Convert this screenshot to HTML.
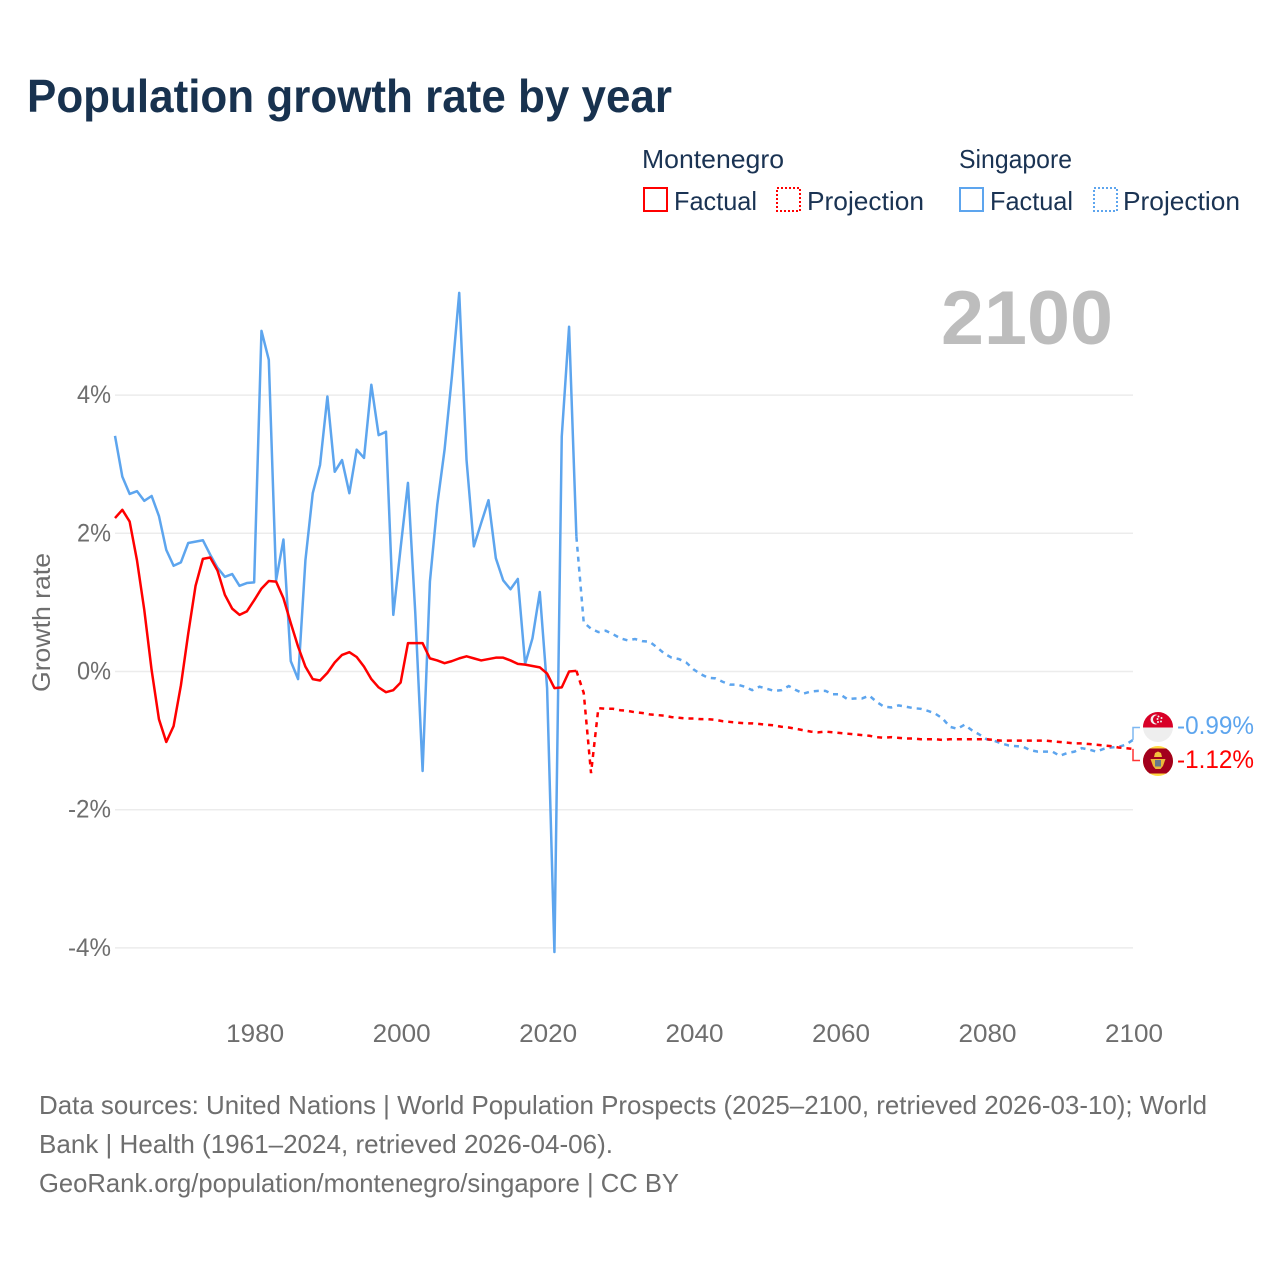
<!DOCTYPE html>
<html lang="en">
<head>
<meta charset="utf-8">
<title>Population growth rate by year</title>
<style>
html,body{margin:0;padding:0;background:#fff;}
svg{display:block;}
text{font-family:"Liberation Sans",sans-serif;}
</style>
</head>
<body>
<svg id="chart" xmlns="http://www.w3.org/2000/svg" width="1280" height="1280" viewBox="0 0 1280 1280">
  <rect width="1280" height="1280" fill="#ffffff"/>
  <text x="27" y="112" font-size="46" font-weight="700" fill="#18324f" textLength="645" lengthAdjust="spacingAndGlyphs">Population growth rate by year</text>

  <g font-size="26" fill="#1a3353">
    <text x="642" y="168" textLength="142" lengthAdjust="spacingAndGlyphs">Montenegro</text>
    <rect x="644" y="188" width="23" height="23" fill="none" stroke="#ff0000" stroke-width="2"/>
    <text x="674" y="210" textLength="83" lengthAdjust="spacingAndGlyphs">Factual</text>
    <rect x="777" y="188" width="23" height="23" fill="none" stroke="#ff0000" stroke-width="2" stroke-dasharray="2,2"/>
    <text x="807" y="210" textLength="117" lengthAdjust="spacingAndGlyphs">Projection</text>
    <text x="959" y="168" textLength="113" lengthAdjust="spacingAndGlyphs">Singapore</text>
    <rect x="960" y="188" width="23" height="23" fill="none" stroke="#5da5ee" stroke-width="2"/>
    <text x="990" y="210" textLength="83" lengthAdjust="spacingAndGlyphs">Factual</text>
    <rect x="1094" y="188" width="23" height="23" fill="none" stroke="#5da5ee" stroke-width="2" stroke-dasharray="2,2"/>
    <text x="1123" y="210" textLength="117" lengthAdjust="spacingAndGlyphs">Projection</text>
  </g>

  <text x="941" y="344" font-size="76" font-weight="700" fill="#bdbdbd" textLength="172" lengthAdjust="spacingAndGlyphs">2100</text>
  <text transform="translate(50,692) rotate(-90)" font-size="25" fill="#6e6e6e" textLength="139" lengthAdjust="spacingAndGlyphs">Growth rate</text>

  <g id="grid"></g>
  <g id="yticks"></g>
  <g id="xticks"></g>
  <g id="series"></g>
  <g id="connectors"></g>

  <defs>
    <clipPath id="sg-clip"><circle cx="1158" cy="727" r="15"/></clipPath>
    <clipPath id="me-clip"><circle cx="1158" cy="761" r="15"/></clipPath>
  </defs>
  <g clip-path="url(#sg-clip)">
    <rect x="1143" y="712" width="30" height="30" fill="#eeeeee"/>
    <rect x="1143" y="712" width="30" height="15.500" fill="#d80027"/>
    <circle cx="1155.500" cy="719.500" r="5" fill="#f0f0f0"/>
    <circle cx="1157.500" cy="719.500" r="4.500" fill="#d80027"/>
    <circle cx="1158.500" cy="716.500" r="1" fill="#f0f0f0"/>
    <circle cx="1161.500" cy="718" r="1" fill="#f0f0f0"/>
    <circle cx="1161" cy="721.500" r="1" fill="#f0f0f0"/>
    <circle cx="1158" cy="722" r="1" fill="#f0f0f0"/>
    <circle cx="1157.500" cy="719" r="1" fill="#f0f0f0"/>
  </g>
  <g clip-path="url(#me-clip)">
    <rect x="1143" y="746" width="30" height="30" fill="#ffda44"/>
    <rect x="1143" y="748.500" width="30" height="25" fill="#a2001d"/>
    <path d="M1154 757 L1155 753 L1158 751.500 L1161 753 L1162 757 Z" fill="#f2c23e"/>
    <path d="M1150.500 759 L1165.500 759 L1163 766 L1160.500 769 L1155.500 769 L1153 766 Z" fill="#eab83a"/>
    <rect x="1155" y="760" width="6" height="6.500" fill="#68788a"/>
  </g>

  <g id="endlabels"></g>

  <g font-size="26" fill="#6e6e6e">
    <text x="39" y="1114" textLength="1168" lengthAdjust="spacingAndGlyphs">Data sources: United Nations | World Population Prospects (2025–2100, retrieved 2026-03-10); World</text>
    <text x="39" y="1153" textLength="574" lengthAdjust="spacingAndGlyphs">Bank | Health (1961–2024, retrieved 2026-04-06).</text>
    <text x="39" y="1192" textLength="640" lengthAdjust="spacingAndGlyphs">GeoRank.org/population/montenegro/singapore | CC BY</text>
  </g>
</svg>

<script>
const firstYear = 1961;
const lastYear = 2100;
const lastFactualYear = 2024;
const xTickYears = [1980, 2000, 2020, 2040, 2060, 2080, 2100];
const yTickValues = [4, 2, 0, -2, -4];
const yTickLabels = ["4%", "2%", "0%", "-2%", "-4%"];

const montenegroFactual = [
  2.22,2.34,2.17,1.61,0.89,0.02,-0.69,-1.02,-0.79,-0.20,
  0.55,1.24,1.63,1.65,1.46,1.11,0.91,0.82,0.87,1.03,
  1.20,1.31,1.30,1.06,0.70,0.36,0.07,-0.11,-0.13,-0.02,
  0.13,0.24,0.28,0.21,0.07,-0.11,-0.23,-0.30,-0.27,-0.16,
  0.41,0.41,0.41,0.19,0.16,0.12,0.15,0.19,0.22,0.19,
  0.16,0.18,0.20,0.20,0.16,0.11,0.10,0.08,0.06,-0.03,
  -0.24,-0.23,0.00,0.01
];
const montenegroProjection = [
  -0.31,-1.47,-0.53,-0.54,-0.54,-0.56,-0.57,-0.59,-0.60,-0.62,
  -0.63,-0.64,-0.66,-0.67,-0.68,-0.68,-0.69,-0.69,-0.70,-0.72,
  -0.73,-0.74,-0.75,-0.75,-0.76,-0.77,-0.78,-0.80,-0.81,-0.83,
  -0.85,-0.87,-0.88,-0.87,-0.88,-0.89,-0.90,-0.91,-0.92,-0.93,
  -0.95,-0.96,-0.95,-0.96,-0.97,-0.97,-0.98,-0.98,-0.98,-0.99,
  -0.98,-0.98,-0.98,-0.98,-0.98,-0.98,-0.99,-1.00,-1.00,-1.00,
  -1.00,-1.00,-1.00,-1.00,-1.01,-1.02,-1.03,-1.04,-1.04,-1.05,
  -1.06,-1.07,-1.08,-1.10,-1.11,-1.12
];
const singaporeFactual = [
  3.41,2.82,2.57,2.61,2.47,2.54,2.25,1.76,1.53,1.58,
  1.86,1.88,1.90,1.69,1.50,1.37,1.41,1.24,1.28,1.29,
  4.93,4.51,1.32,1.91,0.15,-0.11,1.61,2.58,2.99,3.98,
  2.89,3.06,2.58,3.21,3.09,4.15,3.42,3.47,0.82,1.79,
  2.73,0.85,-1.44,1.30,2.41,3.21,4.27,5.48,3.06,1.81,
  2.15,2.48,1.64,1.32,1.19,1.34,0.11,0.48,1.15,-0.24,
  -4.06,3.40,4.99,1.95
];
const singaporeProjection = [
  0.71,0.62,0.57,0.59,0.54,0.48,0.45,0.47,0.44,0.43,
  0.35,0.26,0.20,0.18,0.13,0.03,-0.04,-0.09,-0.10,-0.15,
  -0.19,-0.19,-0.22,-0.27,-0.22,-0.25,-0.28,-0.27,-0.21,-0.27,
  -0.32,-0.29,-0.28,-0.28,-0.33,-0.33,-0.40,-0.39,-0.39,-0.35,
  -0.44,-0.51,-0.52,-0.49,-0.51,-0.53,-0.54,-0.57,-0.61,-0.68,
  -0.80,-0.83,-0.77,-0.85,-0.91,-0.98,-1.00,-1.04,-1.07,-1.08,
  -1.09,-1.14,-1.16,-1.16,-1.16,-1.22,-1.18,-1.16,-1.11,-1.13,
  -1.16,-1.12,-1.10,-1.09,-1.06,-0.99
];

const RED = "#ff0000";
const BLUE = "#5da5ee";
const NS = "http://www.w3.org/2000/svg";

function xScale(year) {
  return 115 + (year - firstYear) * (1133 - 115) / (lastYear - firstYear);
}
function yScale(value) {
  return 671.5 - value * 69.1;
}
function make(tag, parentId, attrs, content) {
  const el = document.createElementNS(NS, tag);
  for (const key in attrs) el.setAttribute(key, attrs[key]);
  if (content !== undefined) el.textContent = content;
  document.getElementById(parentId).appendChild(el);
  return el;
}
function pathFrom(values, startYear) {
  return values.map(function (v, i) {
    return (i ? "L" : "M") + xScale(startYear + i).toFixed(2) + " " + yScale(v).toFixed(2);
  }).join(" ");
}

yTickValues.forEach(function (value, i) {
  const y = yScale(value);
  const grid = make("line", "grid", {x1: 115, x2: 1133, y1: y, y2: y, stroke: "#ececec", "stroke-width": 1.5});
  
  
  const labelWidth = value < 0 ? 43 : 34;
  const label = make("text", "yticks", {x: 111 - labelWidth, y: y + 8, "font-size": 25, fill: "#6e6e6e", textLength: labelWidth, lengthAdjust: "spacingAndGlyphs"}, yTickLabels[i]);
  
  
});

xTickYears.forEach(function (year) {
  const label = make("text", "xticks", {x: xScale(year) + 1, y: 1042, "text-anchor": "middle", "font-size": 25, fill: "#6e6e6e", textLength: 58, lengthAdjust: "spacingAndGlyphs"}, String(year));
  
  
});

const sgFact = make("path", "series", {d: pathFrom(singaporeFactual, firstYear), fill: "none", stroke: BLUE, "stroke-width": 2.5, "stroke-linejoin": "round"});



const sgProj = make("path", "series", {d: pathFrom([singaporeFactual[singaporeFactual.length - 1]].concat(singaporeProjection), lastFactualYear), fill: "none", stroke: BLUE, "stroke-width": 2.5, "stroke-dasharray": "5,5"});



const meFact = make("path", "series", {d: pathFrom(montenegroFactual, firstYear), fill: "none", stroke: RED, "stroke-width": 2.5, "stroke-linejoin": "round"});



const meProj = make("path", "series", {d: pathFrom([montenegroFactual[montenegroFactual.length - 1]].concat(montenegroProjection), lastFactualYear), fill: "none", stroke: RED, "stroke-width": 2.5, "stroke-dasharray": "5,5"});



const sgEnd = singaporeProjection[singaporeProjection.length - 1];
const meEnd = montenegroProjection[montenegroProjection.length - 1];

const sgConn = make("path", "connectors", {d: "M" + xScale(lastYear) + " " + yScale(sgEnd) + " V727.5 H1140", fill: "none", stroke: BLUE, "stroke-width": 1.5, opacity: 0.8});



const meConn = make("path", "connectors", {d: "M" + xScale(lastYear) + " " + yScale(meEnd) + " V760.5 H1140", fill: "none", stroke: RED, "stroke-width": 1.5, opacity: 0.8});



const sgLabel = make("text", "endlabels", {x: 1177, y: 734, "font-size": 25, fill: BLUE, textLength: 77, lengthAdjust: "spacingAndGlyphs"}, sgEnd.toFixed(2) + "%");



const meLabel = make("text", "endlabels", {x: 1177, y: 768, "font-size": 25, fill: RED, textLength: 77, lengthAdjust: "spacingAndGlyphs"}, meEnd.toFixed(2) + "%");


</script>
</body>
</html>
